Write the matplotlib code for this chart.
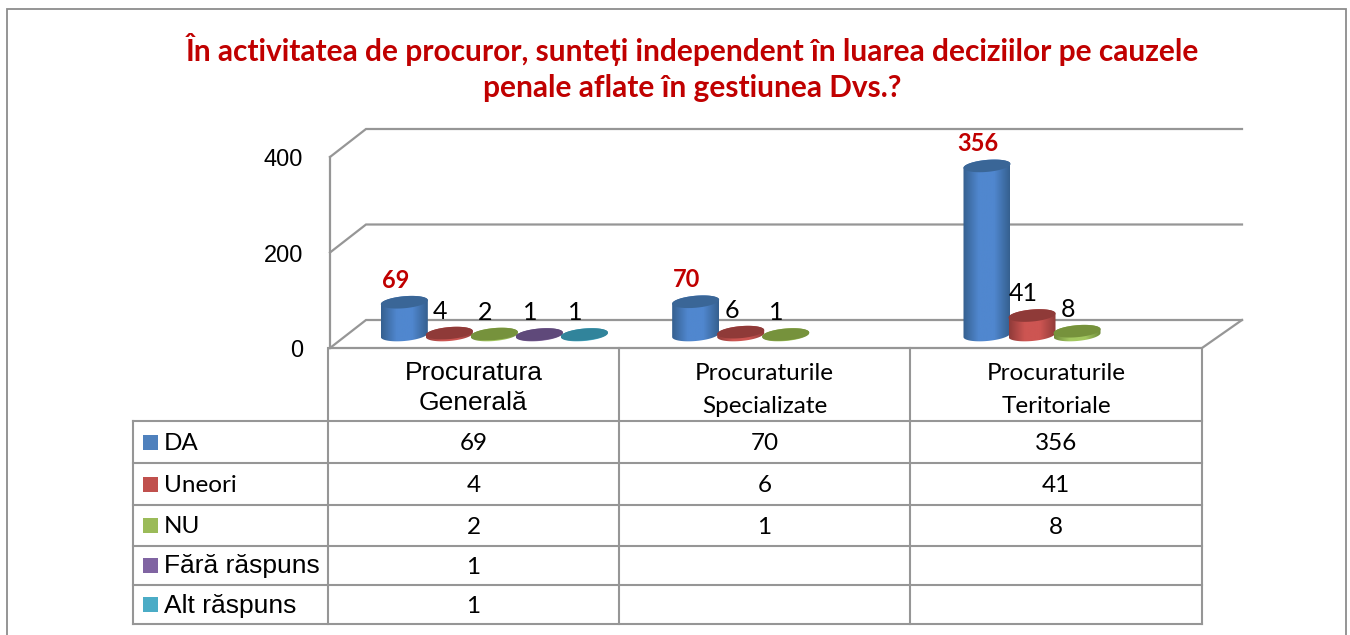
"""Survey chart: 3D-looking cylinders with a data table underneath."""

import matplotlib

matplotlib.use("Agg")
import matplotlib.pyplot as plt
import numpy as np
from matplotlib.colors import LinearSegmentedColormap
from matplotlib.patches import Polygon, Rectangle

TITLE_1 = "În activitatea de procuror, sunteți independent în luarea deciziilor pe cauzele"
TITLE_2 = "penale aflate în gestiunea Dvs.?"

categories = ["Procuratura\nGenerală", "Procuraturile\nSpecializate", "Procuraturile\nTeritoriale"]
series_names = ["DA", "Uneori", "NU", "Fără răspuns", "Alt răspuns"]
da = [69, 70, 356]
uneori = [4, 6, 41]
nu = [2, 1, 8]
fara_raspuns = [1, None, None]
alt_raspuns = [1, None, None]
y_ticks = [0, 200, 400]

all_series = [da, uneori, nu, fara_raspuns, alt_raspuns]
swatches = ["#4f81bd", "#c0504d", "#9bbb59", "#8064a2", "#4bacc6"]
# dark edge, mid, top cap
shades = [
    ("#35608f", "#5087cf", "#3a6697"),
    ("#8f3b39", "#cd5552", "#8f3a38"),
    ("#6f8a3c", "#a3c860", "#76923c"),
    ("#5a4676", "#86699f", "#5f497a"),
    ("#2f7f95", "#4fb2cc", "#31849b"),
]

GRID = "#969696"
W, H = 1350, 635
RED = "#c00000"
BODY = "Lato"
ARIAL = "Liberation Sans"

# chart axes placement, in picture pixels
AX_L, AX_R, AX_BASE, PX_PER_UNIT = 328, 1202, 335, 0.475
PX_PER_CAT = (AX_R - AX_L) / 3
BAR_W = 47
TILT = 2.0
CAP_H = 6.0

fig = plt.figure(figsize=(W / 100, H / 100), dpi=100)
bg = fig.add_axes([0, 0, 1, 1])
bg.set_xlim(0, W)
bg.set_ylim(H, 0)
bg.axis("off")

# outer frame, runs off the bottom of the picture
bg.add_patch(Rectangle((7, 9), 1339, 640, fc="white", ec="#8c8c8c", lw=1.3))

bg.text(692, 49, TITLE_1, color=RED, fontsize=21.5, fontweight="bold", family=BODY, ha="center", va="center")
bg.text(692, 88, TITLE_2, color=RED, fontsize=21.5, fontweight="bold", family=BODY, ha="center", va="center")

# walls and floor of the 3D box
zero_front, step = 348, 95.5
for i in range(3):
    yf = zero_front - i * step
    bg.plot([330, 366, 1242], [yf, yf - 28, yf - 28], color=GRID, lw=1.6, solid_joinstyle="miter")
bg.plot([330, 330], [zero_front, zero_front - 2 * step], color=GRID, lw=1.6)
bg.plot([330, 1202, 1242], [zero_front, zero_front, zero_front - 28], color=GRID, lw=1.6)

for i, t in enumerate(y_ticks):
    bg.text(303, zero_front - i * step + 3, str(t), family=ARIAL, fontsize=17, ha="right", va="center")

# data table
col_x = [133, 328, 619, 910, 1202]
row_y = [421, 463, 505, 546, 585, 624]
for x in col_x[1:]:
    bg.plot([x, x], [zero_front, row_y[-1]], color=GRID, lw=1.5)
bg.plot([col_x[0], col_x[0]], [row_y[0], row_y[-1]], color=GRID, lw=1.5)
for y in row_y:
    bg.plot([col_x[0], col_x[-1]], [y, y], color=GRID, lw=1.5)

for c, label in enumerate(categories):
    cx = (col_x[c + 1] + col_x[c + 2]) / 2
    if c == 0:
        bg.text(cx, 388, label, family=ARIAL, fontsize=19, ha="center", va="center", linespacing=1.35)
    else:
        bg.text(cx, 390, label, family=BODY, fontsize=17.5, ha="center", va="center", linespacing=1.65)

for r, name in enumerate(series_names):
    yc = (row_y[r] + row_y[r + 1]) / 2
    bg.add_patch(Rectangle((143, yc - 7.5), 15, 15, fc=swatches[r], ec="none"))
    fam, fs = (ARIAL, 19) if r >= 3 else (BODY, 17.5)
    bg.text(164, yc + 1, name, family=fam, fontsize=fs, ha="left", va="center")
    for c, v in enumerate(all_series[r]):
        if v is not None:
            bg.text((col_x[c + 1] + col_x[c + 2]) / 2, yc + 2, str(v), family=BODY, fontsize=17.5,
                    ha="center", va="center")

# cylinders live on their own axes with a real value scale
ax = fig.add_axes([AX_L / W, 1 - AX_BASE / H, (AX_R - AX_L) / W, 400 * PX_PER_UNIT / H])
ax.set_xlim(0, 3)
ax.set_ylim(0, 400)
ax.axis("off")
ax.patch.set_alpha(0)


def ellipse_pts(xc, yc, half=None):
    # tilted ellipse, returned in data units; half: "upper"/"lower" keeps one side
    t = {"upper": np.linspace(np.pi, 0, 60), "lower": np.linspace(0, -np.pi, 60)}.get(
        half, np.linspace(0, 2 * np.pi, 120))
    px = (BAR_W / 2) * np.cos(t)
    py = CAP_H * np.sin(t) + TILT * np.cos(t)
    return np.column_stack([xc + px / PX_PER_CAT, yc + py / PX_PER_UNIT])


def cylinder(xc, value, cols):
    dark, mid, cap = cols
    cmap = LinearSegmentedColormap.from_list("c", [dark, mid, mid, dark])
    side = np.vstack([ellipse_pts(xc, value, "upper"), ellipse_pts(xc, 0, "lower")])
    hw = BAR_W / 2 / PX_PER_CAT
    grad = np.linspace(0, 1, 128).reshape(1, -1)
    top = value + 12 / PX_PER_UNIT
    im = ax.imshow(grad, cmap=cmap, extent=[xc - hw, xc + hw, -12 / PX_PER_UNIT, top], aspect="auto", zorder=2)
    # the base ellipse hangs below the value axis, so clip to the whole figure
    im.set_clip_box(fig.bbox)
    im.set_clip_path(Polygon(side, transform=ax.transData))
    ax.add_patch(Polygon(ellipse_pts(xc, value), fc=cap, ec="none", zorder=3, clip_on=False))


for j, values in enumerate(all_series):
    for i, v in enumerate(values):
        if v is None:
            continue
        xc = i + 0.262 + j * 0.1545
        cylinder(xc, v, shades[j])
        color, weight = (RED, "bold") if j == 0 else ("black", "normal")
        ax.annotate(str(v), (xc, v), xytext=(-9, 22), textcoords="offset pixels", family=BODY,
                    fontsize=17 if j == 0 else 18, color=color, fontweight=weight,
                    ha="center", va="center", annotation_clip=False, zorder=5)

ax.set_xlim(0, 3)
ax.set_ylim(0, 400)

fig.savefig("out.png", dpi=100)
plt.close(fig)
